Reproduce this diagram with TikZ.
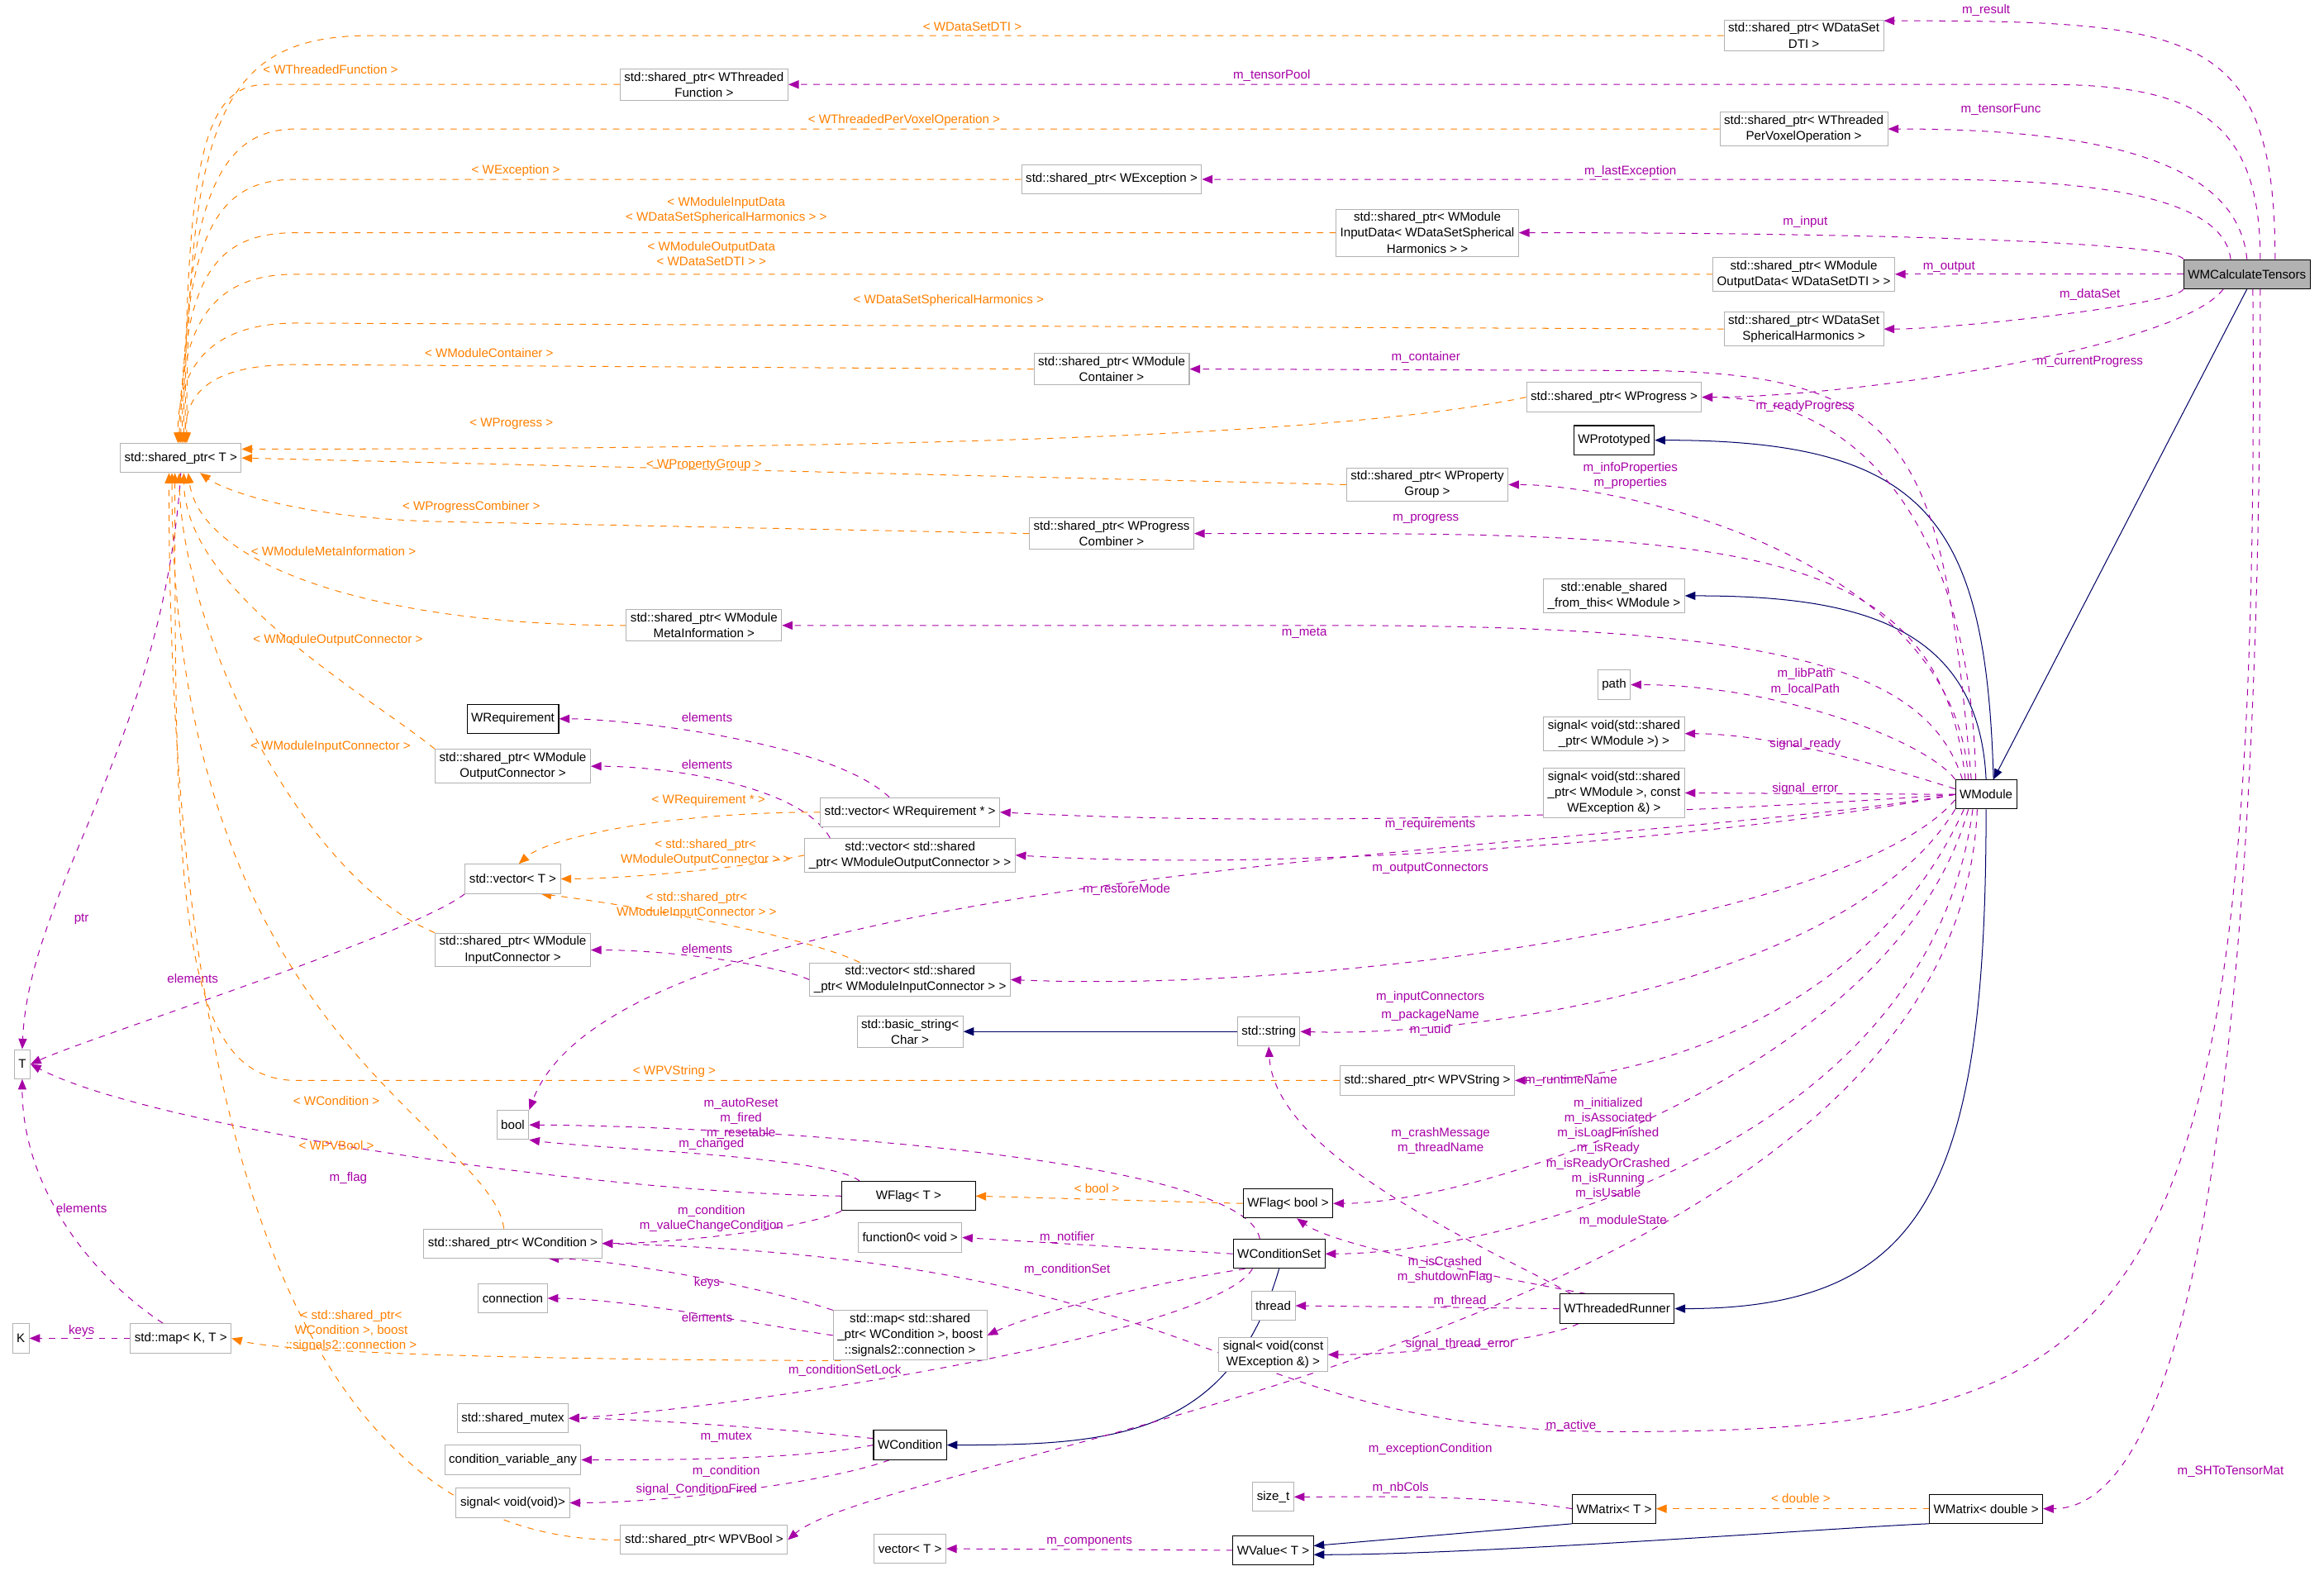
\documentclass[tikz,border=0pt]{standalone}
\usepackage{fontspec}
\setmainfont{Liberation Sans}
\usetikzlibrary{arrows.meta,backgrounds}
\colorlet{usx}{violet!70!magenta}
\colorlet{tpx}{orange}
\colorlet{inx}{blue!40!black}
\colorlet{gbx}{black!30}
\newcommand\px{0.25mm}
\tikzset{
    ext/.style={draw=gbx,fill=white,align=center,inner xsep=2pt,inner ysep=1.5pt,minimum height=14,font=\fontsize{6}{7.6}\selectfont},
    doc/.style={ext,draw=black},
    lbl/.style={font=\fontsize{6}{7.2}\selectfont,align=center,inner sep=1pt},
    use/.style={usx,dashed,-{Triangle[length=5pt,width=4pt]}},
    tmpl/.style={tpx,dashed,-{Triangle[length=5pt,width=4pt]}},
    inh/.style={inx,-{Triangle[length=5pt,width=4pt]}}
}
\begin{document}
\begin{tikzpicture}[x=0.25mm,y=-0.25mm]
    \useasboundingbox (0,0) rectangle (1568,1060);
    % classes
    \node [doc,fill=gbx] (calc) at (1516,185) {WMCalculateTensors};
    \node [ext] (spDTI) at (1217,24) {std::shared\_ptr< WDataSet\\DTI >};
    \node [ext] (spTF) at (475,57) {std::shared\_ptr< WThreaded\\Function >};
    \node [ext] (spTPVO) at (1217,87) {std::shared\_ptr< WThreaded\\PerVoxelOperation >};
    \node [ext] (spExc) at (750,121) {std::shared\_ptr< WException >};
    \node [ext] (spIn) at (963,157) {std::shared\_ptr< WModule\\InputData< WDataSetSpherical\\Harmonics > >};
    \node [ext] (spOut) at (1217,185) {std::shared\_ptr< WModule\\OutputData< WDataSetDTI > >};
    \node [ext] (spSH) at (1217,222) {std::shared\_ptr< WDataSet\\SphericalHarmonics >};
    \node [ext] (spCont) at (750,249) {std::shared\_ptr< WModule\\Container >};
    \node [ext] (spProg) at (1089,268) {std::shared\_ptr< WProgress >};
    \node [ext] (spT) at (122,309) {std::shared\_ptr< T >};
    \node [doc] (proto) at (1089,297) {WPrototyped};
    \node [ext] (spPG) at (963,327) {std::shared\_ptr< WProperty\\Group >};
    \node [ext] (spPC) at (750,360) {std::shared\_ptr< WProgress\\Combiner >};
    \node [ext] (enab) at (1089,402) {std::enable\_shared\\\_from\_this< WModule >};
    \node [ext] (spMeta) at (475,422) {std::shared\_ptr< WModule\\MetaInformation >};
    \node [ext] (path) at (1089,462) {path};
    \node [doc] (wreq) at (346,485) {WRequirement};
    \node [ext] (sigRdy) at (1089,495) {signal< void(std::shared\\\_ptr< WModule >) >};
    \node [ext] (spOC) at (346,517) {std::shared\_ptr< WModule\\OutputConnector >};
    \node [ext] (sigErr) at (1089,535) {signal< void(std::shared\\\_ptr< WModule >, const\\WException \&) >};
    \node [doc] (wmod) at (1340,536) {WModule};
    \node [ext] (vecReq) at (614,548) {std::vector< WRequirement * >};
    \node [ext] (vecOC) at (614,577) {std::vector< std::shared\\\_ptr< WModuleOutputConnector > >};
    \node [ext] (vecT) at (346,593) {std::vector< T >};
    \node [ext] (spIC) at (346,641) {std::shared\_ptr< WModule\\InputConnector >};
    \node [ext] (vecIC) at (614,661) {std::vector< std::shared\\\_ptr< WModuleInputConnector > >};
    \node [ext] (T) at (15,718) {T};
    \node [ext] (bstr) at (614,696) {std::basic\_string<\\Char >};
    \node [ext] (str) at (856,696) {std::string};
    \node [ext] (spStr) at (963,729) {std::shared\_ptr< WPVString >};
    \node [ext] (bool) at (346,759) {bool};
    \node [doc,minimum width=90*\px] (wft) at (613,807) {WFlag< T >};
    \node [doc] (wfb) at (869,812) {WFlag< bool >};
    \node [ext] (spCond) at (346,839) {std::shared\_ptr< WCondition >};
    \node [ext] (fun0) at (614,835) {function0< void >};
    \node [doc] (wcs) at (863,846) {WConditionSet};
    \node [ext] (conn) at (346,876) {connection};
    \node [ext] (mapWC) at (614,901) {std::map< std::shared\\\_ptr< WCondition >, boost\\::signals2::connection >};
    \node [ext] (thrd) at (859,881) {thread};
    \node [doc] (wtr) at (1091,883) {WThreadedRunner};
    \node [ext] (K) at (14,903) {K};
    \node [ext] (mapKT) at (122,903) {std::map< K, T >};
    \node [ext] (sigThr) at (859,914) {signal< void(const\\WException \&) >};
    \node [ext] (smtx) at (346,957) {std::shared\_mutex};
    \node [doc] (wc) at (614,975) {WCondition};
    \node [ext] (cva) at (346,985) {condition\_variable\_any};
    \node [ext] (sigVoid) at (346,1014) {signal< void(void)>};
    \node [ext] (sizet) at (859,1010) {size\_t};
    \node [doc] (wmt) at (1089,1018) {WMatrix< T >};
    \node [doc] (wmd) at (1340,1018) {WMatrix< double >};
    \node [ext] (spBool) at (475,1039) {std::shared\_ptr< WPVBool >};
    \node [ext] (vecT2) at (614,1045) {vector< T >};
    \node [doc] (wval) at (859,1046) {WValue< T >};
    \begin{scope}[on background layer]
    % inheritance
    \draw [inh] (calc.south) -- ([xshift=5*\px]wmod.north);
    \draw [inh] ([xshift=5*\px]wmod.north) .. controls (1340,350) and (1300,297) .. (proto.east);
    \draw [inh] (wmod.north) .. controls (1335,420) and (1250,402) .. (enab.east);
    \draw [inh] (wmod.south) .. controls (1340,800) and (1300,883) .. (wtr.east);
    \draw [inh] (str.west) -- (bstr.east);
    \draw [inh] (wcs.south) .. controls (830,970) and (750,975) .. (wc.east);
    \draw [inh] (wmt.south west) -- ([yshift=3*\px]wval.east);
    \draw [inh] (wmd.south west) .. controls (1250,1030) and (1000,1049) .. ([yshift=-3*\px]wval.east);
    % members of WMCalculateTensors
    \draw [use] ([xshift=19*\px]calc.north) .. controls (1535,20) and (1480,14) .. ([yshift=10*\px]spDTI.east) node[lbl] at (1340,7) {m\_result};
    \draw [use] ([xshift=9*\px]calc.north) .. controls (1525,80) and (1480,57) .. (1380,57) -- (spTF.east) node[lbl] at (858,51) {m\_tensorPool};
    \draw [use] (calc.north) .. controls (1510,110) and (1420,87) .. (spTPVO.east) node[lbl] at (1350,74) {m\_tensorFunc};
    \draw [use] ([xshift=-11*\px]calc.north) .. controls (1500,130) and (1400,121) .. (1300,121) -- (spExc.east) node[lbl] at (1100,116) {m\_lastException};
    \draw [use] (calc.north west) .. controls (1470,165) and (1300,157) .. (spIn.east) node[lbl] at (1218,150) {m\_input};
    \draw [use] (calc.west) -- (spOut.east) node[lbl] at (1315,180) {m\_output};
    \draw [use] (calc.south west) .. controls (1470,205) and (1320,222) .. (spSH.east) node[lbl] at (1410,199) {m\_dataSet};
    \draw [use] ([xshift=-16*\px]calc.south) .. controls (1470,235) and (1250,268) .. (spProg.east) node[lbl] at (1410,244) {m\_currentProgress};
    \draw [use] ([xshift=9*\px]calc.south) .. controls (1525,400) and (1520,1018) .. (wmd.east) node[lbl] at (1505,993) {m\_SHToTensorMat};
    \draw [use] ([xshift=4*\px]calc.south) .. controls (1525,900) and (1450,965) .. (1100,966) .. controls (820,968) and (830,850) .. (spCond.east) node[lbl] at (965,978) {m\_exceptionCondition};
    % members of WModule
    \draw [use] ([xshift=-10*\px]wmod.north) .. controls (1310,300) and (1290,250) .. (1100,250) -- (spCont.east) node[lbl] at (962,241) {m\_container};
    \draw [use] ([xshift=-7*\px]wmod.north) .. controls (1330,350) and (1250,268) .. (spProg.east) node[lbl] at (1218,274) {m\_readyProgress};
    \draw [use] ([xshift=-12*\px]wmod.north) .. controls (1320,380) and (1100,327) .. (spPG.east) node[lbl] at (1100,321) {m\_infoProperties\\m\_properties};
    \draw [use] ([xshift=-14*\px]wmod.north) .. controls (1310,380) and (1200,360) .. (900,360) -- (spPC.east) node[lbl] at (962,350) {m\_progress};
    \draw [use] ([xshift=-16*\px]wmod.north) .. controls (1300,450) and (1200,422) .. (900,422) -- (spMeta.east) node[lbl] at (880,427) {m\_meta};
    \draw [use] (wmod.north west) .. controls (1300,500) and (1200,462) .. (path.east) node[lbl] at (1218,460) {m\_libPath\\m\_localPath};
    \draw [use] (wmod.170) .. controls (1280,520) and (1200,495) .. (sigRdy.east) node[lbl] at (1218,502) {signal\_ready};
    \draw [use] (wmod.west) -- (sigErr.east) node[lbl] at (1218,532) {signal\_error};
    \draw [use] (wmod.west) .. controls (1200,545) and (900,560) .. (vecReq.east) node[lbl] at (965,556) {m\_requirements};
    \draw [use] (wmod.west) .. controls (1200,560) and (900,590) .. (vecOC.east) node[lbl] at (965,586) {m\_outputConnectors};
    \draw [use] (wmod.west) .. controls (1100,575) and (420,580) .. (bool.north east) node[lbl] at (760,600) {m\_restoreMode};
    \draw [use] (wmod.190) .. controls (1250,620) and (900,670) .. (vecIC.east) node[lbl] at (965,673) {m\_inputConnectors};
    \draw [use] (wmod.south west) .. controls (1250,660) and (1000,700) .. (str.east) node[lbl] at (965,690) {m\_packageName\\m\_uuid};
    \draw [use] ([xshift=-15*\px]wmod.south) .. controls (1260,690) and (1100,729) .. (spStr.east) node[lbl] at (1060,729) {m\_runtimeName};
    \draw [use] ([xshift=-12*\px]wmod.south) .. controls (1280,720) and (1000,812) .. (wfb.east) node[lbl] at (1085,775) {m\_initialized\\m\_isAssociated\\m\_isLoadFinished\\m\_isReady\\m\_isReadyOrCrashed\\m\_isRunning\\m\_isUsable};
    \draw [use] ([xshift=-9*\px]wmod.south) .. controls (1300,780) and (1000,846) .. (wcs.east) node[lbl] at (1095,824) {m\_moduleState};
    \draw [use] ([xshift=-6*\px]wmod.south) .. controls (1320,900) and (600,980) .. (spBool.east) node[lbl] at (1060,962) {m\_active};
    % other members
    \draw [use] (spT.south) .. controls (110,500) and (20,600) .. (T.north) node[lbl] at (55,620) {ptr};
    \draw [use] ([xshift=-14*\px]vecReq.north) .. controls (560,500) and (420,485) .. (wreq.east) node[lbl] at (477,484) {elements};
    \draw [use] ([xshift=-54*\px]vecOC.north) .. controls (540,530) and (450,517) .. (spOC.east) node[lbl] at (477,516) {elements};
    \draw [use] (vecT.south west) .. controls (280,630) and (60,700) .. (T.east) node[lbl] at (130,660) {elements};
    \draw [use] (vecIC.west) .. controls (520,650) and (450,641) .. (spIC.east) node[lbl] at (477,640) {elements};
    \draw [use] ([xshift=-12*\px]mapKT.north) .. controls (60,860) and (15,800) .. (T.south) node[lbl] at (55,815) {elements};
    \draw [use] (mapKT.west) -- (K.east) node[lbl] at (55,898) {keys};
    \draw [use] ([xshift=-33*\px]wft.north) .. controls (560,780) and (400,775) .. (bool.south east) node[lbl] at (480,772) {m\_changed};
    \draw [use] (wft.west) .. controls (400,805) and (100,760) .. (T.east) node[lbl] at (235,795) {m\_flag};
    \draw [use] (wft.south west) .. controls (540,830) and (450,839) .. (spCond.east) node[lbl] at (480,822) {m\_condition\\m\_valueChangeCondition};
    \draw [use] ([xshift=-13*\px]wcs.north) .. controls (840,780) and (500,760) .. (bool.east) node[lbl] at (500,755) {m\_autoReset\\m\_fired\\m\_resetable};
    \draw [use] (wcs.west) -- (fun0.east) node[lbl] at (720,835) {m\_notifier};
    \draw [use] ([xshift=-23*\px]wcs.south) .. controls (780,865) and (700,885) .. (mapWC.east) node[lbl] at (720,857) {m\_conditionSet};
    \draw [use] ([xshift=-18*\px]wcs.south) .. controls (820,900) and (500,950) .. (smtx.east) node[lbl] at (570,925) {m\_conditionSetLock};
    \draw [use] (mapWC.north west) .. controls (520,870) and (420,850) .. ([xshift=24*\px]spCond.south) node[lbl] at (477,866) {keys};
    \draw [use] (mapWC.west) .. controls (520,895) and (420,876) .. (conn.east) node[lbl] at (477,889) {elements};
    \draw [use] ([xshift=-31*\px]wtr.north) .. controls (1000,840) and (860,780) .. (str.south) node[lbl] at (972,770) {m\_crashMessage\\m\_threadName};
    \draw [use] ([xshift=-21*\px]wtr.north) .. controls (1000,860) and (900,840) .. ([xshift=6*\px]wfb.south) node[lbl] at (975,857) {m\_isCrashed\\m\_shutdownFlag};
    \draw [use] (wtr.west) -- (thrd.east) node[lbl] at (985,878) {m\_thread};
    \draw [use] ([xshift=-26*\px]wtr.south) .. controls (1040,905) and (950,914) .. (sigThr.east) node[lbl] at (985,907) {signal\_thread\_error};
    \draw [use] (wc.170) .. controls (540,965) and (430,957) .. (smtx.east) node[lbl] at (490,970) {m\_mutex};
    \draw [use] (wc.west) .. controls (540,985) and (450,985) .. (cva.east) node[lbl] at (490,993) {m\_condition};
    \draw [use] ([xshift=-14*\px]wc.south) .. controls (560,1000) and (450,1014) .. (sigVoid.east) node[lbl] at (470,1005) {signal\_ConditionFired};
    \draw [use] (wmt.west) .. controls (1000,1008) and (920,1010) .. (sizet.east) node[lbl] at (945,1004) {m\_nbCols};
    \draw [use] (wval.west) -- (vecT2.east) node[lbl] at (735,1040) {m\_components};
    % template instances of std::shared_ptr< T >
    \draw [tmpl] (spDTI.west) -- (250,24) .. controls (150,24) and (126,80) .. ([xshift=4*\px]spT.north) node[lbl] at (656,18) {< WDataSetDTI >};
    \draw [tmpl] (spTF.west) -- (180,57) .. controls (140,57) and (125,100) .. ([xshift=3*\px]spT.north) node[lbl] at (223,47) {< WThreadedFunction >};
    \draw [tmpl] (spTPVO.west) -- (200,87) .. controls (150,87) and (124,130) .. ([xshift=2*\px]spT.north) node[lbl] at (610,81) {< WThreadedPerVoxelOperation >};
    \draw [tmpl] (spExc.west) -- (200,121) .. controls (150,121) and (123,150) .. ([xshift=1*\px]spT.north) node[lbl] at (348,115) {< WException >};
    \draw [tmpl] (spIn.west) -- (200,157) .. controls (150,157) and (122,180) .. (spT.north) node[lbl] at (490,142) {< WModuleInputData\\< WDataSetSphericalHarmonics > >};
    \draw [tmpl] (spOut.west) -- (200,185) .. controls (150,185) and (121,210) .. ([xshift=-1*\px]spT.north) node[lbl] at (480,171) {< WModuleOutputData\\< WDataSetDTI > >};
    \draw [tmpl] (spSH.west) -- (200,218) .. controls (150,218) and (120,240) .. ([xshift=-2*\px]spT.north) node[lbl] at (640,203) {< WDataSetSphericalHarmonics >};
    \draw [tmpl] (spCont.west) -- (200,246) .. controls (150,246) and (125,260) .. ([xshift=3*\px]spT.north) node[lbl] at (330,238) {< WModuleContainer >};
    \draw [tmpl] (spProg.west) .. controls (900,295) and (600,303) .. ([yshift=6*\px]spT.east) node[lbl] at (345,286) {< WProgress >};
    \draw [tmpl] (spPG.west) -- (spT.east) node[lbl] at (475,314) {< WPropertyGroup >};
    \draw [tmpl] (spPC.west) -- (300,352) .. controls (200,350) and (150,330) .. ([xshift=13*\px]spT.south) node[lbl] at (318,342) {< WProgressCombiner >};
    \draw [tmpl] (spMeta.west) .. controls (250,422) and (135,380) .. ([xshift=5*\px]spT.south) node[lbl] at (225,372) {< WModuleMetaInformation >};
    \draw [tmpl] (spOC.north west) .. controls (250,470) and (125,400) .. ([xshift=2*\px]spT.south) node[lbl] at (228,432) {< WModuleOutputConnector >};
    \draw [tmpl] (spIC.north west) .. controls (200,590) and (122,420) .. ([xshift=-1*\px]spT.south) node[lbl] at (223,504) {< WModuleInputConnector >};
    \draw [tmpl] (spStr.west) -- (200,729) .. controls (120,729) and (118,600) .. ([xshift=-4*\px]spT.south) node[lbl] at (455,723) {< WPVString >};
    \draw [tmpl] ([xshift=-6*\px]spCond.north) .. controls (330,760) and (116,700) .. ([xshift=-6*\px]spT.south) node[lbl] at (227,743) {< WCondition >};
    \draw [tmpl] (spBool.west) .. controls (200,1040) and (114,760) .. ([xshift=-8*\px]spT.south) node[lbl] at (227,773) {< WPVBool >};
    % other template instances
    \draw [tmpl] (vecReq.west) .. controls (450,548) and (370,565) .. ([xshift=4*\px]vecT.north) node[lbl] at (478,540) {< WRequirement * >};
    \draw [tmpl] (vecOC.west) .. controls (500,586) and (420,593) .. (vecT.east) node[lbl] at (476,575) {< std::shared\_ptr<\\WModuleOutputConnector > >};
    \draw [tmpl] ([xshift=-34*\px]vecIC.north) .. controls (540,630) and (420,610) .. ([xshift=19*\px]vecT.south) node[lbl] at (470,611) {< std::shared\_ptr<\\WModuleInputConnector > >};
    \draw [tmpl] (wfb.west) -- (wft.east) node[lbl] at (740,802) {< bool >};
    \draw [tmpl] (mapWC.200) .. controls (450,918) and (200,915) .. (mapKT.east) node[lbl] at (237,898) {< std::shared\_ptr<\\WCondition >, boost\\::signals2::connection >};
    \draw [tmpl] (wmd.west) -- (wmt.east) node[lbl] at (1215,1011) {< double >};
    \end{scope}
\end{tikzpicture}
\end{document}
